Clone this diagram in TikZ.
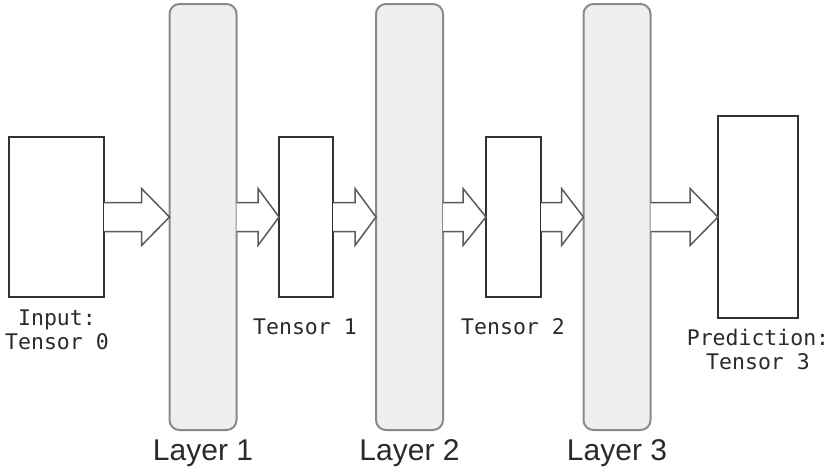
\documentclass[tikz,border=0pt]{standalone}
\usepackage{fontspec}
\setsansfont{Liberation Sans}
\setmonofont{DejaVu Sans Mono}
\usetikzlibrary{calc}
\definecolor{layerfill}{HTML}{EFEFEF}
\definecolor{layerdraw}{HTML}{8A8A8A}
\definecolor{boxdraw}{HTML}{333333}
\definecolor{arrowdraw}{HTML}{5A5A5A}
\definecolor{txt}{HTML}{2A2A2A}
\tikzset{
  layerbox/.style={draw=layerdraw, fill=layerfill, line width=2pt, rounded corners=10pt,
    minimum width=67pt, minimum height=426pt, inner sep=0pt, outer sep=0pt},
  tensorbox/.style={draw=boxdraw, fill=white, line width=2pt, inner sep=0pt, outer sep=0pt},
  barrowstyle/.style={draw=arrowdraw, fill=white, line width=1.5pt, line join=miter},
  monolabel/.style={font=\fontsize{21.5}{24}\selectfont\ttfamily, text=txt, align=center, inner sep=0pt},
  layerlabel/.style={font=\fontsize{30}{34}\selectfont\sffamily, text=txt, inner sep=0pt, anchor=base}
}
\newcommand\blockarr[3]{%
  \draw[barrowstyle] let \p1=(#1.east), \p2=(#2.west) in
    (\x1,\y1+14.5pt) -- (\x2-#3,\y1+14.5pt) -- (\x2-#3,\y1+28.5pt) -- (\x2,\y2)
    -- (\x2-#3,\y1-28.5pt) -- (\x2-#3,\y1-14.5pt) -- (\x1,\y1-14.5pt);}
\begin{document}
\begin{tikzpicture}[x=1pt,y=-1pt]
\useasboundingbox (0,0) rectangle (830,472);
% layers
\node[layerbox] (L1) at (203,217) {};
\node[layerbox] (L2) at (409.5,217) {};
\node[layerbox] (L3) at (617,217) {};
% tensors
\node[tensorbox, minimum width=95pt, minimum height=160pt] (T0) at (56.5,217) {};
\node[tensorbox, minimum width=54pt, minimum height=160pt] (T1) at (306,217) {};
\node[tensorbox, minimum width=55pt, minimum height=160pt] (T2) at (513.5,217) {};
\node[tensorbox, minimum width=80pt, minimum height=202pt] (T3) at (758,217) {};
% arrows
\blockarr{T0}{L1}{28pt}
\blockarr{L1}{T1}{21pt}
\blockarr{T1}{L2}{21pt}
\blockarr{L2}{T2}{23pt}
\blockarr{T2}{L3}{22pt}
\blockarr{L3}{T3}{28pt}
% labels
\node[monolabel] (t0lab) at (57,330) {Input:\\Tensor 0};
\node[monolabel] (t1lab) at (305,327) {Tensor 1};
\node[monolabel] (t2lab) at (513,327) {Tensor 2};
\node[monolabel] (t3lab) at (758,349) {Prediction:\\Tensor 3};
\node[layerlabel] (l1lab) at (203,460) {Layer 1};
\node[layerlabel] (l2lab) at (409.5,460) {Layer 2};
\node[layerlabel] (l3lab) at (617,460) {Layer 3};
\end{tikzpicture}
\end{document}
